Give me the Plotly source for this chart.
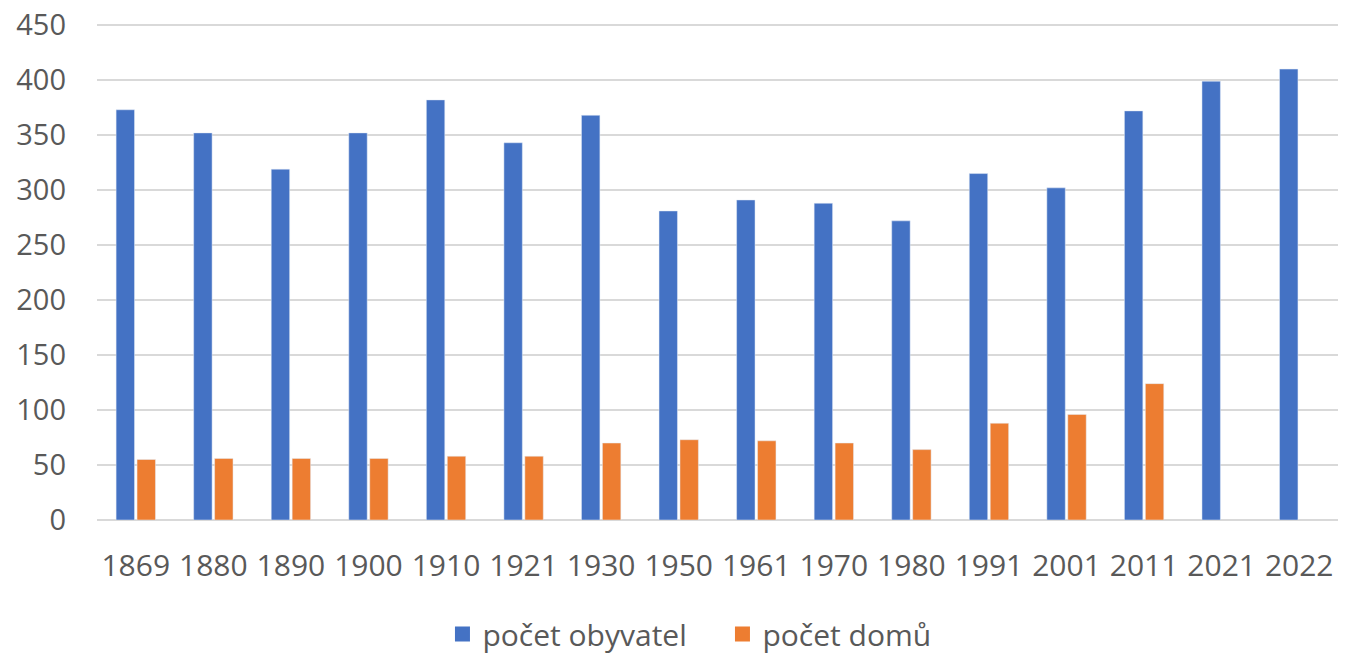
import plotly.graph_objects as go

years = ["1869", "1880", "1890", "1900", "1910", "1921", "1930", "1950",
         "1961", "1970", "1980", "1991", "2001", "2011", "2021", "2022"]
obyvatel = [373, 352, 319, 352, 382, 343, 368, 281, 291, 288, 272, 315, 302, 372, 399, 410]
domu = [55, 56, 56, 56, 58, 58, 70, 73, 72, 70, 64, 88, 96, 124, None, None]

FONT = "Open Sans"
GREY = "#595959"
BLUE = "#4472C4"
ORANGE = "#ED7D31"

fig = go.Figure()
fig.add_trace(go.Bar(x=years, y=obyvatel, name="počet obyvatel",
                     marker=dict(color=BLUE), showlegend=False))
fig.add_trace(go.Bar(x=years, y=domu, name="počet domů",
                     marker=dict(color=ORANGE), showlegend=False))
# legend entries with larger square swatches
fig.add_trace(go.Scatter(x=[None], y=[None], mode="markers", name="počet obyvatel",
                         marker=dict(symbol="square", size=15, color=BLUE)))
fig.add_trace(go.Scatter(x=[None], y=[None], mode="markers", name="počet domů",
                         marker=dict(symbol="square", size=15, color=ORANGE)))

fig.update_layout(
    width=1354, height=655,
    margin=dict(l=97, r=16, t=24, b=135, autoexpand=False),
    paper_bgcolor="white", plot_bgcolor="white",
    barmode="group", bargap=0.46, bargroupgap=0.12,
    font=dict(family=FONT, color=GREY, size=29),
    showlegend=True,
    legend=dict(orientation="h", x=0.504, xanchor="center", y=-0.23, yanchor="middle",
                font=dict(size=30, color=GREY), itemwidth=30, traceorder="normal",
                entrywidth=235, entrywidthmode="pixels"),
    xaxis=dict(type="category", showgrid=False, showline=False, ticks="",
               automargin=False,
               tickfont=dict(size=30, color=GREY), ticklabelstandoff=25),
    yaxis=dict(range=[0, 451], tickvals=[0, 50, 100, 150, 200, 250, 300, 350, 400, 450],
               showgrid=True, gridcolor="#D9D9D9",
               gridwidth=1.5, zeroline=True, zerolinecolor="#D9D9D9", zerolinewidth=1.5,
               showline=False, ticks="", automargin=False, ticklabeloverflow="allow",
               tickfont=dict(size=29, color=GREY),
               ticklabelstandoff=30),
)

fig.write_html("out.html", config={"displayModeBar": False},
               post_script="document.body.style.margin='0';document.body.style.overflow='hidden';")
